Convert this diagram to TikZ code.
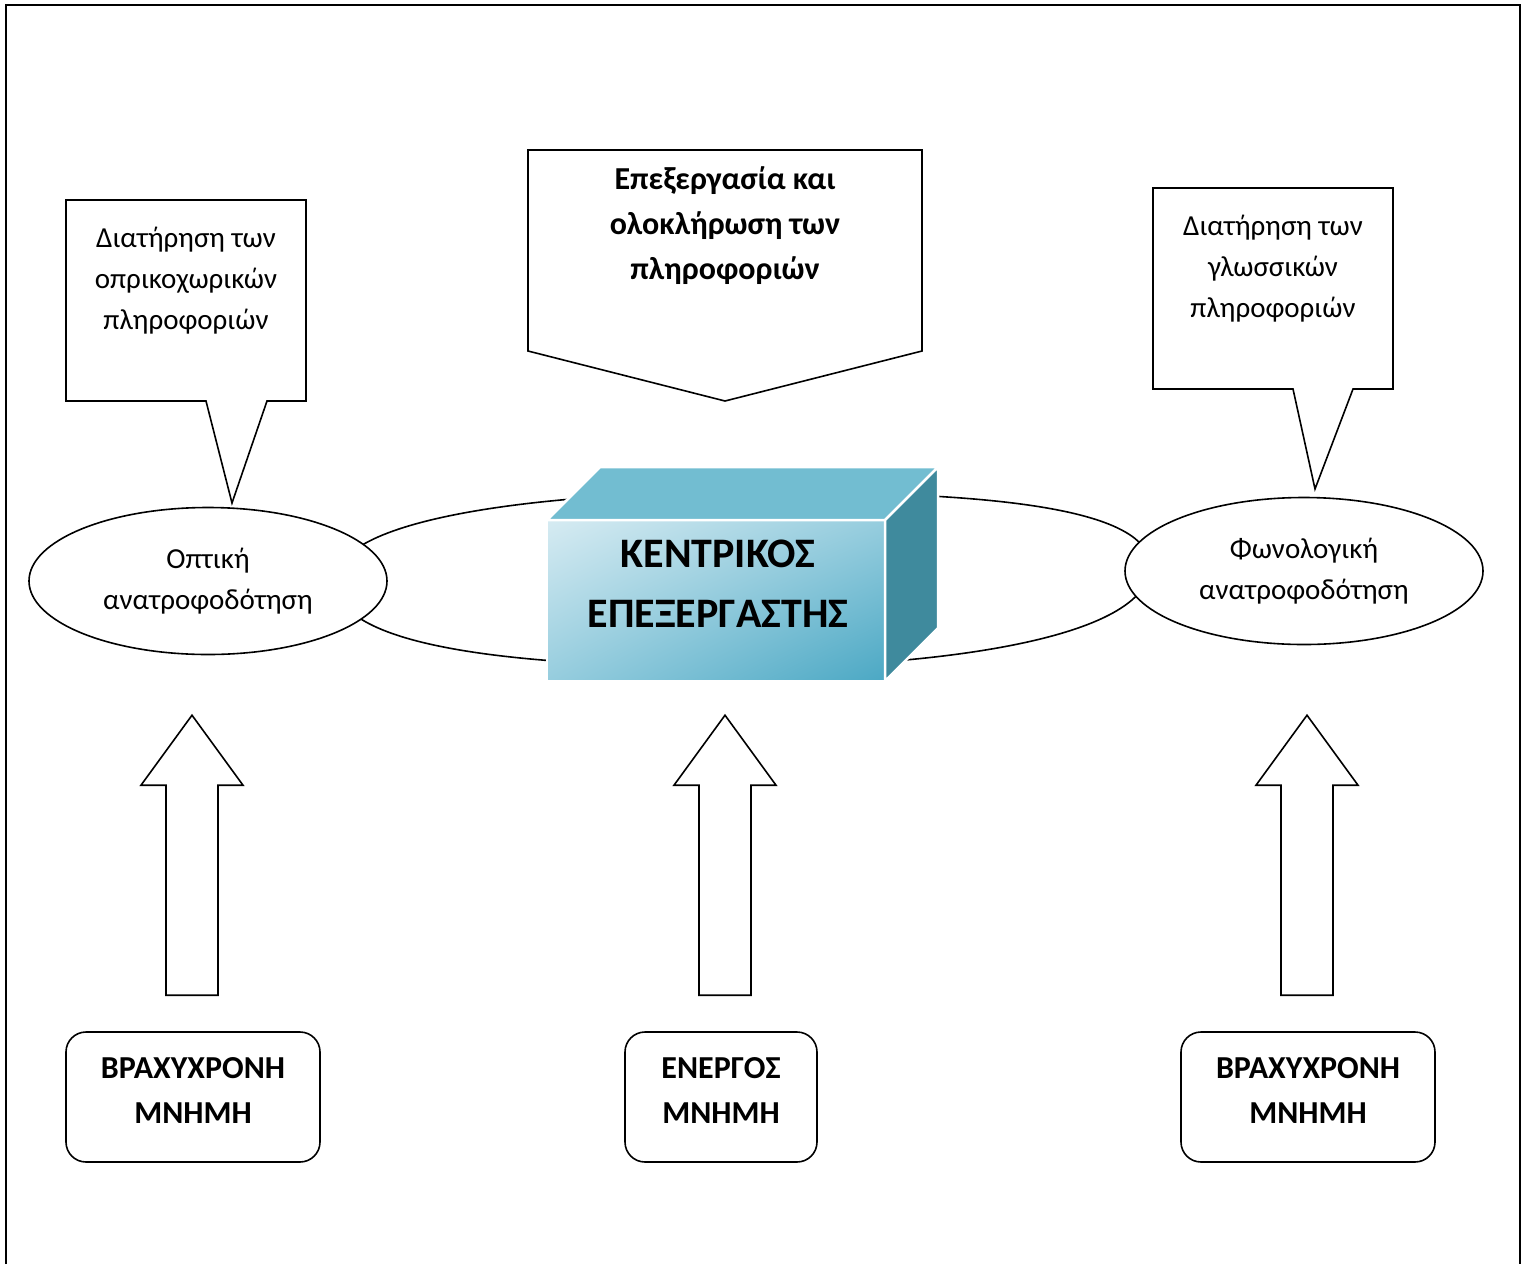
\documentclass[tikz,border=0pt]{standalone}
\usepackage{fontspec}
\setmainfont{Carlito}
\usetikzlibrary{shapes.geometric,shadings,positioning,calc}

\definecolor{cubetop}{RGB}{114,189,209}
\definecolor{cubeside}{RGB}{63,138,157}
\definecolor{cubelight}{RGB}{214,235,242}
\definecolor{cubemid}{RGB}{150,205,222}
\definecolor{cubedark}{RGB}{75,168,196}

\newcommand{\lowpad}{\rule[-14pt]{0pt}{14pt}}

\tikzset{
  shapeline/.style={draw=black, line width=1.6pt, line join=miter},
  feedback/.style={ellipse, shapeline, fill=white, minimum width=358pt, minimum height=147pt,
    inner sep=0pt, align=center, font=\fontsize{29}{41}\selectfont},
  memorybox/.style={shapeline, rounded corners=20pt, minimum height=130pt, align=center,
    font=\fontsize{32}{45}\selectfont\bfseries},
  calloutline/.style={shapeline, fill=white},
  callouttext/.style={align=center, inner sep=0pt, font=\fontsize{29}{41}\selectfont},
  blockarrow/.style={shapeline, fill=white},
  cubefront/.style={shade, upper left=cubelight, upper right=cubemid, lower left=cubemid,
    lower right=cubedark, draw=white, line width=2.5pt, outer sep=0pt,
    minimum width=338pt, minimum height=161pt},
  cubetext/.style={align=center, inner sep=0pt, font=\fontsize{42}{60}\selectfont\bfseries},
  cubeface/.style={draw=white, line width=2.5pt, line join=round},
}

\begin{document}
\begin{tikzpicture}[x=1pt, y=-1pt]
\useasboundingbox (0,0) rectangle (1525,1264);
% --- cornice ---
\draw[line width=2.5pt] (6,1264) -- (6,5) -- (1520,5) -- (1520,1264);

% --- anello dietro al processore ---
\draw[line width=1.6pt] (335,581) .. controls (335,515) and (560,492) .. (745,492)
  .. controls (930,492) and (1150,498) .. (1150,566)
  .. controls (1150,640) and (930,667) .. (745,667)
  .. controls (560,667) and (335,655) .. (335,581);

% --- ellissi laterali ---
\node[feedback] (visual) at (208,581) {Οπτική\\ανατροφοδότηση};
\node[feedback] (phono) at (1304,571) {Φωνολογική\\ανατροφοδότηση};

% --- processore centrale ---
\node[cubefront] (cpu) at (716,600.5) {};
\filldraw[cubeface, fill=cubetop] (cpu.north west) -- ++(53,-53) -- ++(338,0) -- (cpu.north east) -- cycle;
\filldraw[cubeface, fill=cubeside] (cpu.north east) -- ++(53,-53) -- ++(0,161) -- (cpu.south east) -- cycle;
\node[cubetext] (cpulabel) at ($(cpu.center)+(2,-17)$) {ΚΕΝΤΡΙΚΟΣ\\ΕΠΕΞΕΡΓΑΣΤΗΣ};

% --- fumetti ---
\draw[calloutline] (66,200) -- (306,200) -- (306,401) -- (267,401) -- (232,503) -- (206,401) -- (66,401) -- cycle;
\node[callouttext] (keepvis) at (186,281) {Διατήρηση των\\οπρικοχωρικών\\πληροφοριών};
\draw[calloutline] (528,150) -- (922,150) -- (922,351) -- (725,401) -- (528,351) -- cycle;
\node[callouttext, font=\fontsize{32}{45}\selectfont\bfseries] (process) at (725,226) {Επεξεργασία και\\ολοκλήρωση των\\πληροφοριών};
\draw[calloutline] (1153,188) -- (1393,188) -- (1393,389) -- (1353,389) -- (1315,489) -- (1293,389) -- (1153,389) -- cycle;
\node[callouttext] (keepphon) at (1273,269) {Διατήρηση των\\γλωσσικών\\πληροφοριών};

% --- memorie ---
\node[memorybox, minimum width=254pt] (stmleft) at (193,1097) {ΒΡΑΧΥΧΡΟΝΗ\\ΜΝΗΜΗ\lowpad};
\node[memorybox, minimum width=192pt] (wm) at (721,1097) {ΕΝΕΡΓΟΣ\\ΜΝΗΜΗ\lowpad};
\node[memorybox, minimum width=254pt] (stmright) at (1308,1097) {ΒΡΑΧΥΧΡΟΝΗ\\ΜΝΗΜΗ\lowpad};

% --- frecce verso l'alto ---
\foreach \m/\dx in {stmleft/-1,wm/4,stmright/-1}
  \draw[blockarrow] ($(\m.north)+(\dx-26,-36)$) -- ++(0,-210) -- ++(-25,0) -- ++(51,-70)
    -- ++(51,70) -- ++(-25,0) -- ++(0,210) -- cycle;
\end{tikzpicture}
\end{document}
